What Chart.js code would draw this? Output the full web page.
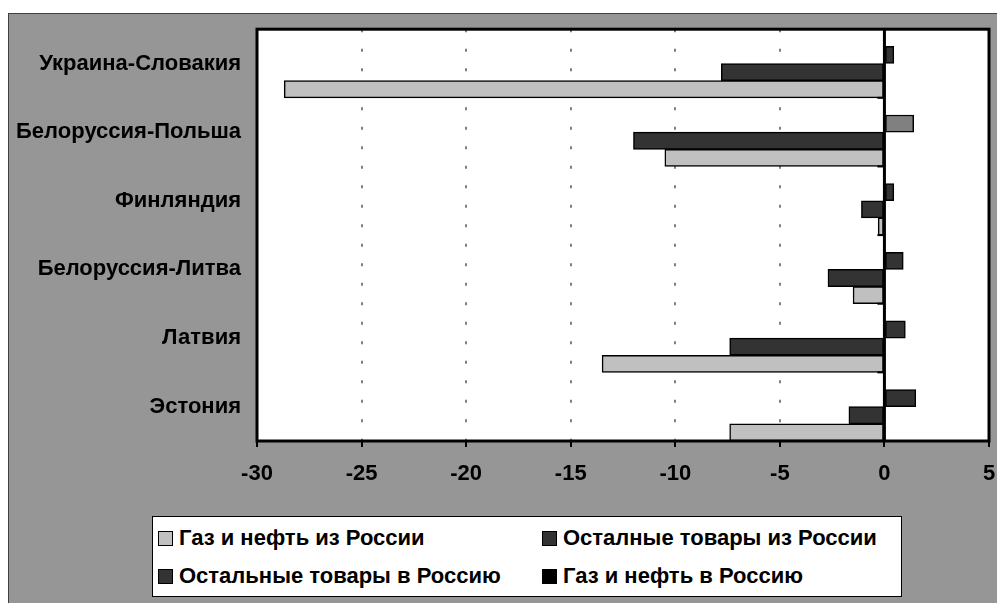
<!DOCTYPE html>
<html>
<head>
<meta charset="utf-8">
<script src="https://cdn.jsdelivr.net/npm/chart.js@4.4.0/dist/chart.umd.min.js"></script>
<style>
  body { margin: 0; background: #fff; }
  #frame { position: absolute; left: 8px; top: 13px; width: 1000px; height: 600px;
           background: #969696; border-left: 1px solid #404040; border-top: 1px solid #404040; }
  #wrap { position: absolute; left: 0; top: 0; width: 997px; height: 603px; }
  #legend { position: absolute; left: 152px; top: 516px; width: 750px; height: 81px;
            background: #fff; border: 1px solid #000; box-sizing: border-box;
            font: bold 22px 'Liberation Sans', Arial, sans-serif; color: #000; }
  .item { position: absolute; display: flex; align-items: center; white-space: nowrap; }
  .sw { width: 13px; height: 13px; border: 1px solid #000; margin-right: 6px; }
</style>
</head>
<body>
<div id="frame"></div>
<div id="wrap"><canvas id="chart" width="997" height="603"></canvas></div>
<div id="legend"></div>
<script>
// категории сверху вниз
const labels = ['Украина-Словакия', 'Белоруссия-Польша', 'Финляндия', 'Белоруссия-Литва', 'Латвия', 'Эстония'];

const gasFromRussia   = [-28.7, -10.5, -0.3, -1.5, -13.5, -7.4];
const otherFromRussia = [-7.8, -12.0, -1.1, -2.7, -7.4, -1.7];
const otherToRussia   = [0.45, 1.4, 0.45, 0.9, 1.0, 1.5];
const gasToRussia     = [0, 0, 0, 0, 0, 0];

const xTicks = [-30, -25, -20, -15, -10, -5, 0, 5];

const font = { family: "'Liberation Sans', Arial, sans-serif", size: 22, weight: 'bold' };

// белая область построения, рамка, ось в нуле и засечки категорий
const plotFrame = {
  id: 'plotFrame',
  beforeDraw(chart) {
    const { ctx, chartArea: a } = chart;
    ctx.save();
    ctx.fillStyle = '#fff';
    ctx.fillRect(a.left, a.top, a.width, a.height);
    ctx.restore();
  },
  afterDatasetsDraw(chart) {
    const { ctx, chartArea: a, scales: { x, y } } = chart;
    const x0 = x.getPixelForValue(0);
    ctx.save();
    ctx.strokeStyle = '#000';
    ctx.lineWidth = 3;
    ctx.strokeRect(a.left, a.top, a.width, a.height);
    ctx.beginPath();
    ctx.moveTo(x0, a.top);
    ctx.lineTo(x0, a.bottom);
    ctx.stroke();
    ctx.lineWidth = 2;
    for (let i = 0; i < labels.length; i++) {
      const yy = y.getPixelForValue(i + 0.5);
      ctx.beginPath();
      ctx.moveTo(x0 - 7, yy);
      ctx.lineTo(x0, yy);
      ctx.stroke();
    }
    ctx.restore();
  }
};

const ctx = document.getElementById('chart').getContext('2d');
const myChart = new Chart(ctx, {
  type: 'bar',
  data: {
    labels: labels,
    datasets: [
      { label: 'Газ и нефть в Россию', data: gasToRussia, backgroundColor: '#000000' },
      { label: 'Остальные товары в Россию', data: otherToRussia,
        backgroundColor: ['#333333', '#808080', '#333333', '#333333', '#333333', '#333333'] },
      { label: 'Осталные товары из России', data: otherFromRussia, backgroundColor: '#333333' },
      { label: 'Газ и нефть из России', data: gasFromRussia, backgroundColor: '#c0c0c0' }
    ]
  },
  options: {
    indexAxis: 'y',
    responsive: false,
    animation: false,
    datasets: {
      bar: {
        borderColor: '#000',
        borderWidth: 1.5,
        borderSkipped: false,
        categoryPercentage: 1,
        barPercentage: 1
      }
    },
    layout: { padding: { top: 27, right: 8, bottom: 122, left: 0 } },
    plugins: {
      legend: { display: false },
      tooltip: { enabled: false }
    },
    scales: {
      x: {
        min: -30,
        max: 5,
        afterBuildTicks: (s) => { s.ticks = xTicks.map(v => ({ value: v })); },
        afterFit: (s) => { s.height = 40; s.paddingLeft = 0; s.paddingRight = 0; },
        grid: {
          color: '#808080',
          lineWidth: 2,
          tickColor: '#000',
          tickWidth: 2,
          tickLength: 6
        },
        border: { display: false, dash: [3, 16.5] },
        ticks: { color: '#000', font: font, padding: 14, maxRotation: 0 }
      },
      y: {
        afterFit: (s) => { s.width = 257; },
        grid: { display: false, drawTicks: false },
        border: { display: false },
        ticks: { color: '#000', font: font, padding: 16 }
      }
    }
  },
  plugins: [plotFrame]
});

// легенда 2x2 в рамке, порядок как в оригинале
const legendEl = document.getElementById('legend');
const order = myChart.data.datasets.slice().reverse();
const cols = [5, 389];
const rows = [21, 59];
order.forEach((ds, i) => {
  const item = document.createElement('div');
  item.className = 'item';
  item.style.left = cols[i % 2] + 'px';
  item.style.top = (rows[Math.floor(i / 2)] - 12) + 'px';
  item.style.height = '24px';
  const sw = document.createElement('span');
  sw.className = 'sw';
  sw.style.background = Array.isArray(ds.backgroundColor) ? ds.backgroundColor[0] : ds.backgroundColor;
  const tx = document.createElement('span');
  tx.textContent = ds.label;
  item.appendChild(sw);
  item.appendChild(tx);
  legendEl.appendChild(item);
});
</script>
</body>
</html>
